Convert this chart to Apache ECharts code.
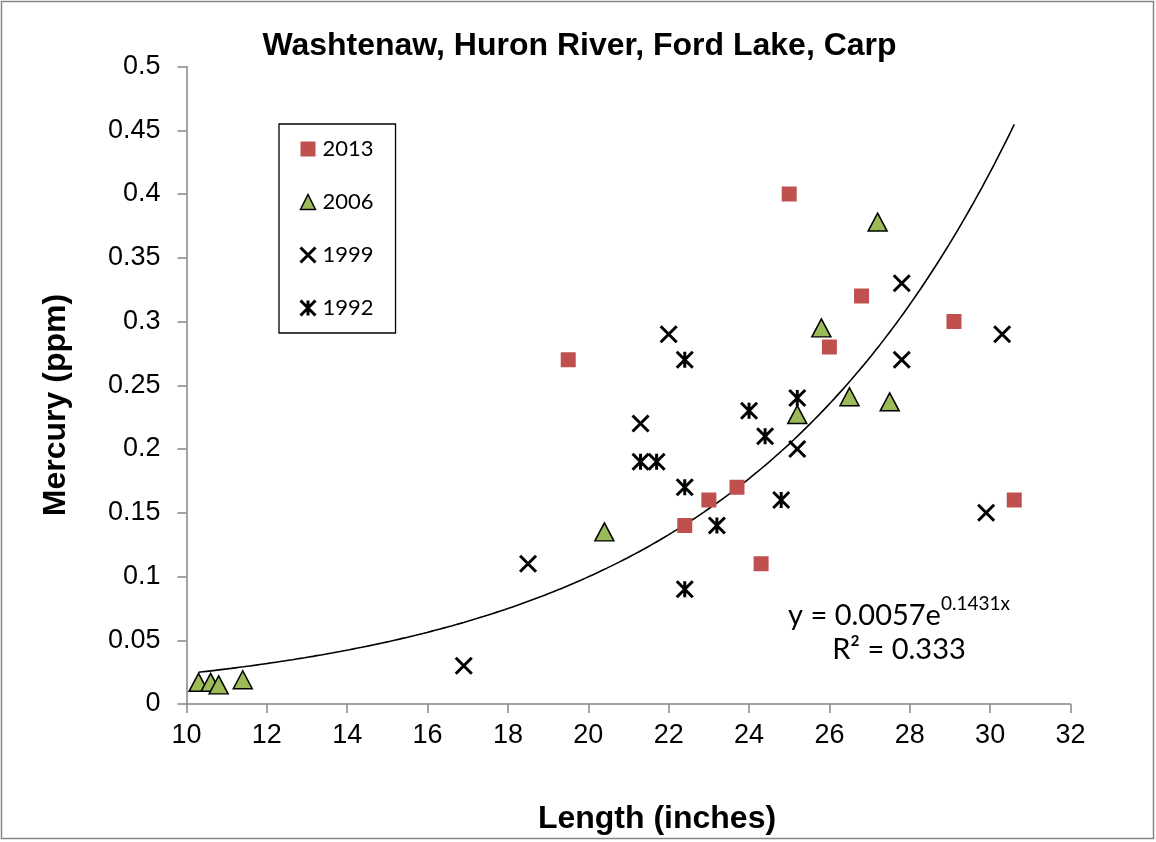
<!DOCTYPE html>
<html><head><meta charset="utf-8">
<script src="https://cdn.jsdelivr.net/npm/echarts@6/dist/echarts.min.js"></script>
<style>html,body{margin:0;padding:0;background:#fff}#c{width:1156px;height:842px}</style>
</head><body><div id="c"></div>
<script>
// ---- data ----
const chartTitle = 'Washtenaw, Huron River, Ford Lake, Carp';
const xAxisName = 'Length (inches)';
const yAxisName = 'Mercury (ppm)';
const seriesNames = ['2013', '2006', '1999', '1992'];
const data2013 = [[19.5,0.27],[22.4,0.14],[23.0,0.16],[23.7,0.17],[24.3,0.11],[25.0,0.40],[26.0,0.28],[26.8,0.32],[29.1,0.30],[30.6,0.16]];
const data2006 = [[10.3,0.017],[10.6,0.017],[10.8,0.015],[11.4,0.019],[20.4,0.135],[25.2,0.227],[25.8,0.295],[26.5,0.241],[27.2,0.378],[27.5,0.237]];
const data1999 = [[16.9,0.03],[18.5,0.11],[21.3,0.22],[22.0,0.29],[25.2,0.20],[27.8,0.27],[27.8,0.33],[29.9,0.15],[30.3,0.29]];
const data1992 = [[21.3,0.19],[21.7,0.19],[22.4,0.27],[22.4,0.17],[22.4,0.09],[23.2,0.14],[24.0,0.23],[24.4,0.21],[24.8,0.16],[25.2,0.24]];
const xMin = 10, xMax = 32, xInterval = 2;
const yMin = 0, yMax = 0.5, yInterval = 0.05;
// exponential trendline as printed on the chart: y = a * e^(b x)
const trendA = 0.0057, trendB = 0.1431, trendFrom = 10.3, trendTo = 30.6;
const eqMain = 'y = 0.0057e', eqExp = '0.1431x', r2Label = 'R² = 0.333';

// trendline sampled through the printed equation
const trendData = [];
for (let i = 0; i <= 200; i++) {
  const x = trendFrom + (trendTo - trendFrom) * i / 200;
  trendData.push([x, trendA * Math.exp(trendB * x)]);
}

const X_PATH = 'path://M0,0L10,10M10,0L0,10';
const AST_PATH = 'path://M0,0L10,10M10,0L0,10M5,0L5,10';
const AX = '#868686';
const TICKFONT = '"Liberation Sans", Arial, sans-serif';
const CAL = 'Lato, "Open Sans", sans-serif';

const chart = echarts.init(document.getElementById('c'), null, {renderer: 'canvas'});
chart.setOption({
  animation: false,
  backgroundColor: '#fff',
  grid: {left: 186.5, right: 85.5, top: 66.5, bottom: 138, containLabel: false},
  xAxis: {
    type: 'value', min: xMin, max: xMax, interval: xInterval,
    axisLine: {show: true, onZero: false, lineStyle: {color: AX, width: 1.5}},
    axisTick: {show: true, length: 9, lineStyle: {color: AX, width: 1.5}},
    splitLine: {show: false},
    axisLabel: {fontFamily: TICKFONT, fontSize: 27, color: '#000', margin: 18}
  },
  yAxis: {
    type: 'value', min: yMin, max: yMax, interval: yInterval,
    axisLine: {show: true, onZero: false, lineStyle: {color: AX, width: 1.5}},
    axisTick: {show: true, length: 9, lineStyle: {color: AX, width: 1.5}},
    splitLine: {show: false},
    axisLabel: {fontFamily: TICKFONT, fontSize: 27, color: '#000', margin: 26,
      formatter: v => String(+v.toFixed(2))}
  },
  legend: {
    orient: 'vertical', left: 279, top: 124,
    backgroundColor: '#fff',
    borderColor: '#000', borderWidth: 1.3,
    padding: [14, 22, 14, 20],
    itemWidth: 15, itemHeight: 15, itemGap: 31,
    textStyle: {fontFamily: CAL, fontSize: 22, color: '#000', lineHeight: 20, padding: [0, 0, 0, 2]},
    data: [
      {name: '2013'},
      {name: '2006', itemStyle: {borderWidth: 1.5}},
      {name: '1999', itemStyle: {borderWidth: 3}},
      {name: '1992', itemStyle: {borderWidth: 3}}
    ]
  },
  series: [
    {type: 'line', name: 'trend', data: trendData, showSymbol: false, symbol: 'none', silent: true, z: 1,
     lineStyle: {color: '#000', width: 1.6}},
    {type: 'scatter', name: seriesNames[0], data: data2013, symbol: 'rect', symbolSize: 15, z: 3,
     itemStyle: {color: '#C0504D', opacity: 1}},
    {type: 'scatter', name: seriesNames[1], data: data2006, symbol: 'triangle', symbolSize: [19, 18], z: 3,
     itemStyle: {color: '#9BBB59', borderColor: '#000', borderWidth: 1.5, opacity: 1}},
    {type: 'scatter', name: seriesNames[2], data: data1999, symbol: X_PATH, symbolSize: 16, z: 3,
     itemStyle: {color: '#000', borderColor: '#000', borderWidth: 3, opacity: 1}},
    {type: 'scatter', name: seriesNames[3], data: data1992, symbol: AST_PATH, symbolSize: 16, z: 3,
     itemStyle: {color: '#000', borderColor: '#000', borderWidth: 3, opacity: 1}}
  ],
  graphic: [
    {type: 'rect', shape: {x: 1.5, y: 1.5, width: 1152, height: 837}, silent: true, z: -1,
     style: {fill: 'none', stroke: AX, lineWidth: 1.5}},
    {type: 'text', x: 579.5, y: 46, silent: true,
     style: {text: chartTitle, align: 'center', verticalAlign: 'middle',
             font: 'bold 32px "Liberation Sans", Arial, sans-serif', fill: '#000'}},
    {type: 'text', x: 657, y: 819, silent: true,
     style: {text: xAxisName, align: 'center', verticalAlign: 'middle',
             font: 'bold 32px "Liberation Sans", Arial, sans-serif', fill: '#000'}},
    {type: 'text', x: 56, y: 405, rotation: Math.PI / 2, silent: true,
     style: {text: yAxisName, align: 'center', verticalAlign: 'middle',
             font: 'bold 32px "Liberation Sans", Arial, sans-serif', fill: '#000'}},
    {type: 'text', x: 899, y: 612, silent: true,
     style: {text: '{a|' + eqMain + '}{b|' + eqExp + '}', align: 'center', verticalAlign: 'middle',
       rich: {
         a: {fontFamily: CAL, fontSize: 29, lineHeight: 36, color: '#000', verticalAlign: 'bottom'},
         b: {fontFamily: CAL, fontSize: 19, lineHeight: 16, color: '#000', verticalAlign: 'top'}
       }}},
    {type: 'text', x: 899, y: 650, silent: true,
     style: {text: r2Label, align: 'center', verticalAlign: 'middle',
             font: '29px Lato, "Open Sans", sans-serif', fill: '#000'}}
  ]
});
</script>
</body></html>
